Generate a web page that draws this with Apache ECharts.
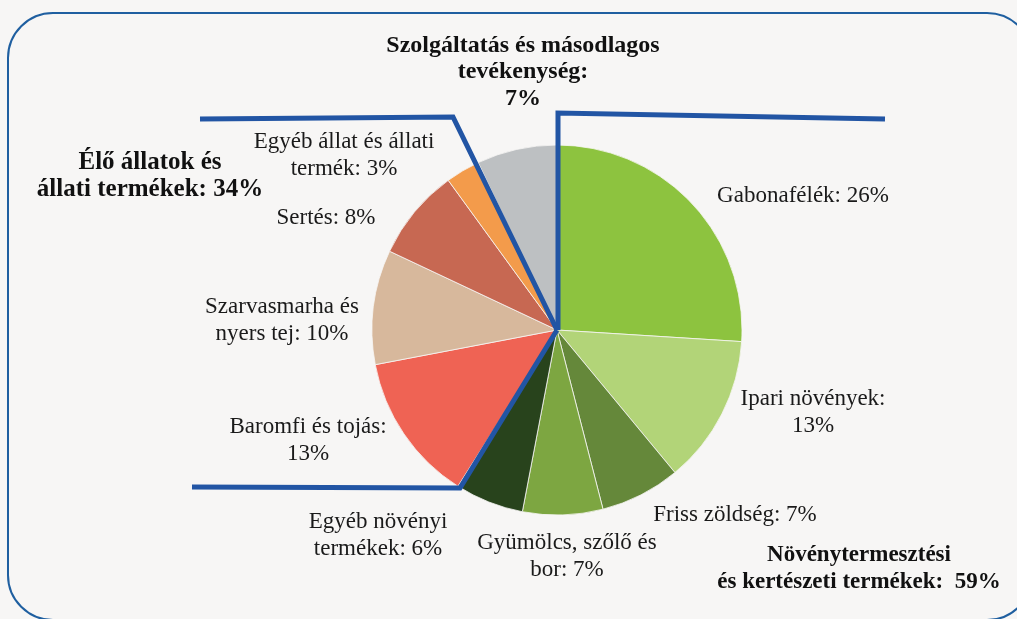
<!DOCTYPE html>
<html>
<head>
<meta charset="utf-8">
<script src="https://cdn.jsdelivr.net/npm/echarts@6/dist/echarts.min.js"></script>
<style>
    html, body { margin: 0; padding: 0; background: #F7F6F5; }
    #chart { width: 1017px; height: 619px; }
</style>
</head>
<body>
<div id="chart"></div>
<script>
// szektorok (az óramutató járásával, 12 órától)
const categories = [
    'Gabonafélék', 'Ipari növények', 'Friss zöldség', 'Gyümölcs, szőlő és bor',
    'Egyéb növényi termékek', 'Baromfi és tojás', 'Szarvasmarha és nyers tej',
    'Sertés', 'Egyéb állat és állati termék', 'Szolgáltatás és másodlagos tevékenység'
];
const shares = [26, 13, 7, 7, 6, 13, 10, 8, 3, 7];
const labelTexts = [
    'Gabonafélék: 26%',
    'Ipari növények:\n13%',
    'Friss zöldség: 7%',
    'Gyümölcs, szőlő és\nbor: 7%',
    'Egyéb növényi\ntermékek: 6%',
    'Baromfi és tojás:\n13%',
    'Szarvasmarha és\nnyers tej: 10%',
    'Sertés: 8%',
    'Egyéb állat és állati\ntermék: 3%',
    'Szolgáltatás és másodlagos\ntevékenység:\n7%'
];
const groupTexts = [
    'Élő állatok és\nállati termékek: 34%',
    'Növénytermesztési\nés kertészeti termékek:  59%'
];

const colors = ['#8DC33F', '#B2D478', '#65883A', '#7DA641', '#28431C',
    '#EF6354', '#D7B89C', '#C76852', '#F39B4B', '#BDC0C2'];

// címkék helye (layout)
const labelPos = [
    [803, 196], [813, 412], [735, 515], [567, 556], [378, 535],
    [308, 440], [282, 320], [326, 218], [344, 155], [523, 72]
];

const serif = '"Liberation Serif", "DejaVu Serif", serif';
const blue = '#2255A4';

const chart = echarts.init(document.getElementById('chart'));

const option = {
    backgroundColor: '#F7F6F5',
    animation: false,
    graphic: [
        {
            type: 'rect', z: -10,
            shape: { x: 8, y: 13, width: 1024, height: 607, r: 45 },
            style: { fill: '#F7F6F5', stroke: '#1F5FA0', lineWidth: 2 }
        },
        // csoporthatárok
        {
            type: 'polyline', z: 100,
            shape: { points: [[558, 330], [558, 113], [885, 119]] },
            style: { stroke: blue, lineWidth: 5, fill: null }
        },
        {
            type: 'polyline', z: 100,
            shape: { points: [[200, 119], [453, 117], [557, 330]] },
            style: { stroke: blue, lineWidth: 5, fill: null }
        },
        {
            type: 'polyline', z: 100,
            shape: { points: [[557, 330], [460, 488], [192, 487]] },
            style: { stroke: blue, lineWidth: 5, fill: null }
        },
        {
            type: 'text', z: 100, x: 150, y: 176,
            style: {
                text: groupTexts[0], fill: '#111', font: 'bold 25px ' + serif,
                textAlign: 'center', textVerticalAlign: 'middle', lineHeight: 27
            }
        },
        {
            type: 'text', z: 100, x: 859, y: 569,
            style: {
                text: groupTexts[1], fill: '#111', font: 'bold 23px ' + serif,
                textAlign: 'center', textVerticalAlign: 'middle', lineHeight: 27
            }
        }
    ],
    series: [{
        type: 'pie',
        center: [557, 330],
        radius: 185,
        startAngle: 90,
        clockwise: true,
        silent: true,
        itemStyle: { borderColor: '#F7F6F5', borderWidth: 0.8 },
        label: {
            show: true,
            position: 'outside',
            color: '#1a1a1a',
            fontFamily: serif,
            fontSize: 23,
            lineHeight: 27,
            align: 'center',
            formatter: p => labelTexts[p.dataIndex]
        },
        labelLine: { show: false },
        labelLayout: p => ({
            x: labelPos[p.dataIndex][0],
            y: labelPos[p.dataIndex][1],
            align: 'center',
            verticalAlign: 'middle'
        }),
        data: categories.map((c, i) => ({
            name: c,
            value: shares[i],
            itemStyle: { color: colors[i] },
            label: i === 9 ? { fontWeight: 'bold', color: '#111', fontSize: 24, lineHeight: 26.5 } : {}
        }))
    }]
};

chart.setOption(option);
</script>
</body>
</html>
